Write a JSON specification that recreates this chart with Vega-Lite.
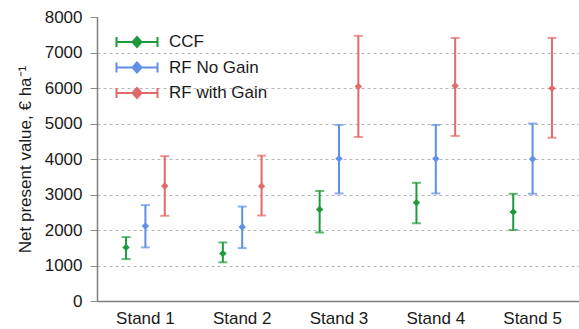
{
  "$schema": "https://vega.github.io/schema/vega-lite/v6.json",
  "autosize": "none",
  "padding": {"left": 97, "top": 17, "right": 0, "bottom": 28},
  "width": 484,
  "height": 284,
  "data": {
    "values": [
      {"stand": "Stand 1", "scenario": "CCF", "npv": 1510, "low": 1180, "high": 1800},
      {"stand": "Stand 1", "scenario": "RF No Gain", "npv": 2110, "low": 1510, "high": 2700},
      {"stand": "Stand 1", "scenario": "RF with Gain", "npv": 3240, "low": 2400, "high": 4080},
      {"stand": "Stand 2", "scenario": "CCF", "npv": 1340, "low": 1090, "high": 1650},
      {"stand": "Stand 2", "scenario": "RF No Gain", "npv": 2085, "low": 1490, "high": 2660},
      {"stand": "Stand 2", "scenario": "RF with Gain", "npv": 3235, "low": 2410, "high": 4095},
      {"stand": "Stand 3", "scenario": "CCF", "npv": 2580, "low": 1930, "high": 3100},
      {"stand": "Stand 3", "scenario": "RF No Gain", "npv": 4010, "low": 3030, "high": 4960},
      {"stand": "Stand 3", "scenario": "RF with Gain", "npv": 6040, "low": 4620, "high": 7470},
      {"stand": "Stand 4", "scenario": "CCF", "npv": 2770, "low": 2190, "high": 3330},
      {"stand": "Stand 4", "scenario": "RF No Gain", "npv": 4010, "low": 3030, "high": 4960},
      {"stand": "Stand 4", "scenario": "RF with Gain", "npv": 6060, "low": 4650, "high": 7410},
      {"stand": "Stand 5", "scenario": "CCF", "npv": 2510, "low": 2000, "high": 3020},
      {"stand": "Stand 5", "scenario": "RF No Gain", "npv": 4000, "low": 3020, "high": 5000},
      {"stand": "Stand 5", "scenario": "RF with Gain", "npv": 5990, "low": 4600, "high": 7410}
    ]
  },
  "encoding": {
    "x": {
      "field": "stand",
      "type": "nominal",
      "scale": {"paddingInner": 0, "paddingOuter": 0},
      "axis": {
        "title": null,
        "labelAngle": 0,
        "ticks": false,
        "labelPadding": 9,
        "labelFontSize": 17,
        "labelColor": "#1a1a1a",
        "domainColor": "#7f7f7f",
        "domainWidth": 1.5
      }
    },
    "xOffset": {
      "field": "scenario",
      "type": "nominal",
      "scale": {"domain": ["CCF", "RF No Gain", "RF with Gain"], "paddingInner": 0, "paddingOuter": 3.32}
    },
    "color": {
      "field": "scenario",
      "type": "nominal",
      "scale": {
        "domain": ["CCF", "RF No Gain", "RF with Gain"],
        "range": ["#1e9a3c", "#5f8fe6", "#e26a6a"]
      },
      "legend": {
        "title": null,
        "orient": "none",
        "legendX": 31.5,
        "legendY": 16.5,
        "padding": 0,
        "symbolType": "M-4.1,0H4.1M-4.1,-1V1M4.1,-1V1M0,-1L0.9,0L0,1L-0.9,0Z",
        "symbolSize": 100,
        "symbolStrokeWidth": 2,
        "labelFontSize": 17,
        "labelColor": "#1a1a1a",
        "labelOffset": 23.5,
        "rowPadding": 6.5,
        "encode": {
          "symbols": {
            "update": {
              "fill": {"scale": "color", "field": "value"},
              "stroke": {"scale": "color", "field": "value"},
              "strokeWidth": {"value": 2},
              "opacity": {"value": 1}
            }
          }
        }
      }
    }
  },
  "layer": [
    {
      "mark": {"type": "rule", "strokeWidth": 2},
      "encoding": {
        "y": {
          "field": "low",
          "type": "quantitative",
          "title": "Net present value, € ha⁻¹",
          "scale": {"domain": [0, 8000], "nice": false}
        },
        "y2": {"field": "high"}
      }
    },
    {
      "mark": {"type": "tick", "size": 9, "thickness": 2},
      "encoding": {"y": {"field": "low", "type": "quantitative", "title": "Net present value, € ha⁻¹"}}
    },
    {
      "mark": {"type": "tick", "size": 9, "thickness": 2},
      "encoding": {"y": {"field": "high", "type": "quantitative", "title": "Net present value, € ha⁻¹"}}
    },
    {
      "mark": {"type": "point", "shape": "diamond", "filled": true, "size": 55, "opacity": 1},
      "encoding": {"y": {"field": "npv", "type": "quantitative", "title": "Net present value, € ha⁻¹"}}
    }
  ],
  "config": {
    "font": "Liberation Sans",
    "view": {"stroke": null},
    "axisY": {
      "titleFontSize": 17,
      "titleFontWeight": "normal",
      "titleColor": "#1a1a1a",
      "titlePadding": 10,
      "values": [0, 1000, 2000, 3000, 4000, 5000, 6000, 7000, 8000],
      "tickCount": 9,
      "format": "d",
      "labelOverlap": false,
      "labelFontSize": 17,
      "labelColor": "#1a1a1a",
      "labelPadding": 8,
      "tickSize": 7,
      "tickColor": "#8c8c8c",
      "domainColor": "#7f7f7f",
      "domainWidth": 1.5,
      "grid": true,
      "gridColor": "#b5b5b5",
      "gridDash": [3, 3],
      "gridOpacity": {"condition": {"test": "datum.value === 0 || datum.value === 8000", "value": 0}, "value": 1}
    }
  }
}
